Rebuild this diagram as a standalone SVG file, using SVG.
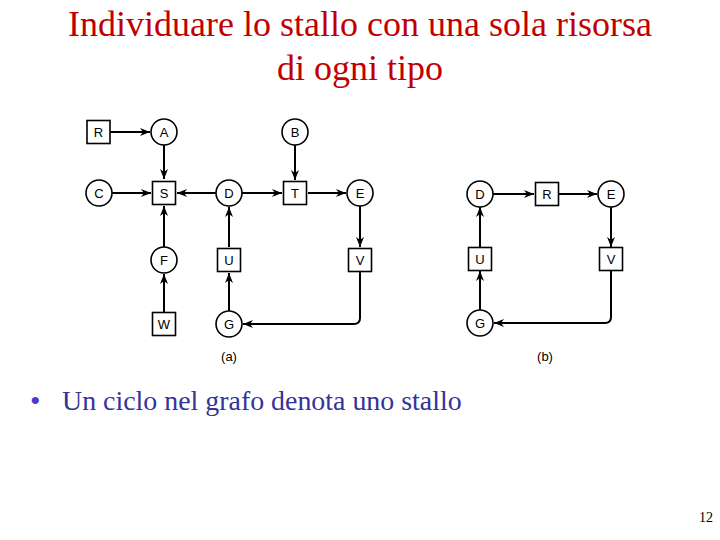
<svg xmlns="http://www.w3.org/2000/svg" width="720" height="540" viewBox="0 0 720 540">
<style>
.n{fill:#fff;stroke:#000;stroke-width:1.6}
.l{font-family:"Liberation Sans",Arial,sans-serif;font-size:13px;text-anchor:middle;dominant-baseline:central;fill:#000}
.c{fill:none;stroke:#000;stroke-width:2}
.t{font-family:"Liberation Serif","Times New Roman",serif;fill:#c00000;font-size:36px;text-anchor:middle}
</style>
<defs>
<marker id="ah" viewBox="0 0 10 10" refX="10" refY="5" markerWidth="10" markerHeight="10" markerUnits="userSpaceOnUse" orient="auto">
<path d="M0,1 L10,5 L0,9 L3,5 Z" fill="#000"/>
</marker>
</defs>
<rect width="720" height="540" fill="#fff"/>
<text class="t" x="360" y="36">Individuare lo stallo con una sola risorsa</text>
<text class="t" x="360" y="80">di ogni tipo</text>

<g id="connectors">
<!-- (a) -->
<path class="c" d="M110,132 H150" marker-end="url(#ah)"/>
<path class="c" d="M164,145 V179" marker-end="url(#ah)"/>
<path class="c" d="M295,145 V180" marker-end="url(#ah)"/>
<path class="c" d="M112,193 H151" marker-end="url(#ah)"/>
<path class="c" d="M216,193 H177" marker-end="url(#ah)"/>
<path class="c" d="M242,193 H282" marker-end="url(#ah)"/>
<path class="c" d="M308,193 H346" marker-end="url(#ah)"/>
<path class="c" d="M360,206 V247" marker-end="url(#ah)"/>
<path class="c" d="M164,247 V206" marker-end="url(#ah)"/>
<path class="c" d="M229,247 V207" marker-end="url(#ah)"/>
<path class="c" d="M164,312 V274" marker-end="url(#ah)"/>
<path class="c" d="M229,311 V273" marker-end="url(#ah)"/>
<path class="c" d="M360,272 V318 Q360,324 354,324 H243" marker-end="url(#ah)"/>
<!-- (b) -->
<path class="c" d="M493,194 H534" marker-end="url(#ah)"/>
<path class="c" d="M559,194 H597" marker-end="url(#ah)"/>
<path class="c" d="M611,207 V247" marker-end="url(#ah)"/>
<path class="c" d="M611,271 V317 Q611,323 605,323 H494" marker-end="url(#ah)"/>
<path class="c" d="M480,310 V271" marker-end="url(#ah)"/>
<path class="c" d="M480,247 V207" marker-end="url(#ah)"/>
</g>

<!-- (a) nodes -->
<g id="a-R"><rect class="n" x="87" y="120.5" width="23" height="23"/><text class="l" x="98.5" y="132">R</text></g>
<g id="a-A"><circle class="n" cx="164" cy="132" r="13"/><text class="l" x="164" y="132">A</text></g>
<g id="a-B"><circle class="n" cx="295" cy="132" r="13"/><text class="l" x="295" y="132">B</text></g>
<g id="a-C"><circle class="n" cx="99" cy="193" r="13"/><text class="l" x="99" y="193">C</text></g>
<g id="a-S"><rect class="n" x="152.5" y="181.5" width="23" height="23"/><text class="l" x="164" y="193">S</text></g>
<g id="a-D"><circle class="n" cx="229" cy="193" r="13"/><text class="l" x="229" y="193">D</text></g>
<g id="a-T"><rect class="n" x="283.5" y="181.5" width="23" height="23"/><text class="l" x="295" y="193">T</text></g>
<g id="a-E"><circle class="n" cx="360" cy="193" r="13"/><text class="l" x="360" y="193">E</text></g>
<g id="a-F"><circle class="n" cx="164" cy="260" r="13"/><text class="l" x="164" y="260">F</text></g>
<g id="a-U"><rect class="n" x="217.5" y="248.5" width="23" height="23"/><text class="l" x="229" y="260">U</text></g>
<g id="a-V"><rect class="n" x="348.5" y="248.5" width="23" height="23"/><text class="l" x="360" y="260">V</text></g>
<g id="a-W"><rect class="n" x="152.5" y="312.5" width="23" height="23"/><text class="l" x="164" y="324">W</text></g>
<g id="a-G"><circle class="n" cx="229" cy="324" r="13"/><text class="l" x="229" y="324">G</text></g>
<text class="l" x="229" y="356">(a)</text>

<!-- (b) nodes -->
<g id="b-D"><circle class="n" cx="480" cy="194" r="13"/><text class="l" x="480" y="194">D</text></g>
<g id="b-R"><rect class="n" x="535.5" y="182.5" width="23" height="23"/><text class="l" x="547" y="194">R</text></g>
<g id="b-E"><circle class="n" cx="611" cy="194" r="13"/><text class="l" x="611" y="194">E</text></g>
<g id="b-U"><rect class="n" x="468.5" y="247.5" width="23" height="23"/><text class="l" x="480" y="259">U</text></g>
<g id="b-V"><rect class="n" x="599.5" y="247.5" width="23" height="23"/><text class="l" x="611" y="259">V</text></g>
<g id="b-G"><circle class="n" cx="480" cy="323" r="13"/><text class="l" x="480" y="323">G</text></g>
<text class="l" x="545" y="356">(b)</text>

<text x="30" y="411" font-family="'Liberation Serif','Times New Roman',serif" font-size="30" fill="#4b3bd0">•</text>
<text x="62" y="410" font-family="'Liberation Serif','Times New Roman',serif" font-size="27.9" fill="#333399">Un ciclo nel grafo denota uno stallo</text>
<text x="713" y="522" font-family="'Liberation Serif','Times New Roman',serif" font-size="14" fill="#000" text-anchor="end">12</text>
</svg>
